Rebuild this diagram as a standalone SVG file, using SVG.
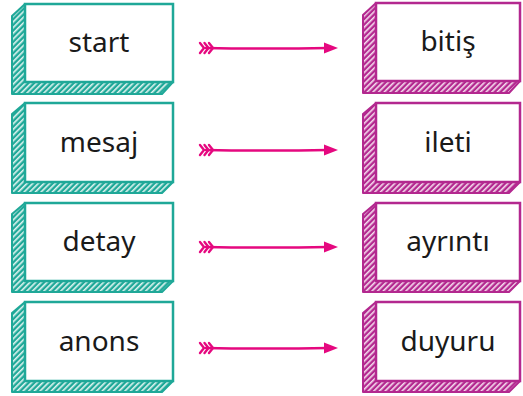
<svg xmlns="http://www.w3.org/2000/svg" width="523" height="396" viewBox="0 0 523 396">
<style>
.bg{fill:#ffffff}
.tf{fill:#ffffff;stroke:#1fa898;stroke-width:2.5}
.ts{fill:url(#hatchT);stroke:#1fa898;stroke-width:2;stroke-linejoin:round}
.pf{fill:#ffffff;stroke:#b3288f;stroke-width:2.5}
.ps{fill:url(#hatchP);stroke:#b3288f;stroke-width:2;stroke-linejoin:round}
.lbl{font-family:"Noto Sans","DejaVu Sans",sans-serif;font-size:28px;fill:#1a1a1a;text-anchor:middle}
.arr{stroke:#e5087f;stroke-width:2.5;fill:none;stroke-linecap:round}
.fl{stroke:#e5087f;stroke-width:2.4;fill:none;stroke-linecap:round;stroke-linejoin:round}
.hd{fill:#e5087f}
</style>
<defs>
<pattern id="hatchT" width="4" height="4" patternUnits="userSpaceOnUse" patternTransform="rotate(45)">
<rect width="4" height="4" fill="#1fa898"/>
<rect x="0" y="0" width="1.6" height="4" fill="#e0f4f1"/>
</pattern>
<pattern id="hatchP" width="4" height="4" patternUnits="userSpaceOnUse" patternTransform="rotate(45)">
<rect width="4" height="4" fill="#b3288f"/>
<rect x="0" y="0" width="1.6" height="4" fill="#f5dcee"/>
</pattern>
<g id="arrowShape">
<path class="fl" d="M200,-5 L204,0 L200,5 M204.5,-5 L208.5,0 L204.5,5 M209,-5 L213,0 L209,5"/>
<path class="arr" d="M206,0 Q270,1.2 328,0"/>
<path class="hd" d="M324,-5.5 L338,0 L324,5.5 Z"/>
</g>
</defs>
<rect class="bg" x="0" y="0" width="523" height="396"/>

<g id="connectors">
<use href="#arrowShape" transform="translate(0,48)"/>
<use href="#arrowShape" transform="translate(0,150)"/>
<use href="#arrowShape" transform="translate(0,247)"/>
<use href="#arrowShape" transform="translate(0,348)"/>
</g>

<g id="start">
<polygon class="ts" points="25,4 12,16 12,94 162,94 173,82"/>
<rect class="tf" x="25" y="4" width="148" height="78"/>
<text class="lbl" x="99" y="52">start</text>
</g>
<g id="mesaj">
<polygon class="ts" points="25,103 12,114 12,193 162,193 173,182"/>
<rect class="tf" x="25" y="103" width="148" height="79"/>
<text class="lbl" x="99" y="152">mesaj</text>
</g>
<g id="detay">
<polygon class="ts" points="25,203 12,214 12,292 162,292 173,281"/>
<rect class="tf" x="25" y="203" width="148" height="78"/>
<text class="lbl" x="99" y="251">detay</text>
</g>
<g id="anons">
<polygon class="ts" points="25,302 12,313 12,392 162,392 173,381"/>
<rect class="tf" x="25" y="302" width="148" height="79"/>
<text class="lbl" x="99" y="351">anons</text>
</g>

<g id="bitis">
<polygon class="ps" points="376,3 363,15 363,93 509,93 520,81"/>
<rect class="pf" x="376" y="3" width="144" height="78"/>
<text class="lbl" x="448" y="51">bitiş</text>
</g>
<g id="ileti">
<polygon class="ps" points="376,103 363,114 363,193 509,193 520,182"/>
<rect class="pf" x="376" y="103" width="144" height="79"/>
<text class="lbl" x="448" y="152">ileti</text>
</g>
<g id="ayrinti">
<polygon class="ps" points="376,203 363,214 363,292 509,292 520,281"/>
<rect class="pf" x="376" y="203" width="144" height="78"/>
<text class="lbl" x="448" y="251">ayrıntı</text>
</g>
<g id="duyuru">
<polygon class="ps" points="376,302 363,313 363,392 509,392 520,381"/>
<rect class="pf" x="376" y="302" width="144" height="79"/>
<text class="lbl" x="448" y="351">duyuru</text>
</g>
</svg>
